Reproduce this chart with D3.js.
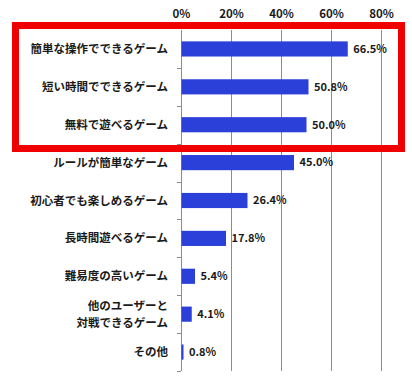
<!DOCTYPE html>
<html>
<head>
<meta charset="utf-8">
<script src="https://cdn.jsdelivr.net/npm/d3@7"></script>
<style>
  body { margin: 0; background: #fff; }
  svg text { font-family: "Noto Sans CJK JP", "Noto Sans", sans-serif; font-weight: bold; fill: #1a1a1a; }
</style>
</head>
<body>
<div id="chart"></div>
<script>
// categories (label lines) and values in %
const categories = [
  ["簡単な操作でできるゲーム"],
  ["短い時間でできるゲーム"],
  ["無料で遊べるゲーム"],
  ["ルールが簡単なゲーム"],
  ["初心者でも楽しめるゲーム"],
  ["長時間遊べるゲーム"],
  ["難易度の高いゲーム"],
  ["他のユーザーと", "対戦できるゲーム"],
  ["その他"]
];
const values = [66.5, 50.8, 50.0, 45.0, 26.4, 17.8, 5.4, 4.1, 0.8];
const xTicks = [0, 20, 40, 60, 80];

const svgWidth = 412;
const svgHeight = 377;

const svg = d3.select("#chart")
  .append("svg")
  .attr("width", svgWidth)
  .attr("height", svgHeight);

const keys = categories.map(c => c.join(""));

const XScale = d3.scaleLinear([0, 80], [181, 381]);
const YScale = d3.scaleBand(keys, [30, 371]).paddingInner(0.6).paddingOuter(0.3);
const step = YScale.step();

// gridlines
svg.append("g")
  .selectAll("line")
  .data(xTicks)
  .enter()
  .append("line")
  .attr("x1", d => XScale(d) + 0.5)
  .attr("x2", d => XScale(d) + 0.5)
  .attr("y1", 30)
  .attr("y2", 371)
  .attr("stroke", "#8c8c8c")
  .attr("stroke-width", 1);

// left axis tick marks at category boundaries
svg.append("g")
  .selectAll("line")
  .data(d3.range(1, keys.length + 1))
  .enter()
  .append("line")
  .attr("x1", XScale(0) - 4)
  .attr("x2", XScale(0))
  .attr("y1", i => Math.round(30 + i * step) + 0.5)
  .attr("y2", i => Math.round(30 + i * step) + 0.5)
  .attr("stroke", "#8c8c8c");

// top axis labels
const XAxis = d3.axisTop(XScale)
  .tickValues(xTicks)
  .tickSize(0)
  .tickFormat(d => d + "%");

svg.append("g")
  .attr("transform", "translate(0,14)")
  .call(XAxis)
  .call(g => g.select(".domain").remove())
  .selectAll("text")
  .attr("dy", "0.32em")
  .attr("y", 0)
  .style("font-size", "11.5px")
  .style("font-family", "\"Noto Sans CJK JP\", sans-serif")
  .style("font-weight", "bold")
  .style("fill", "#1a1a1a");

// bars
svg.selectAll("rect.bar")
  .data(values)
  .enter()
  .append("rect")
  .attr("class", "bar")
  .attr("x", XScale(0) + 0.5)
  .attr("y", (d, i) => YScale(keys[i]))
  .attr("width", d => XScale(d) - XScale(0))
  .attr("height", YScale.bandwidth())
  .attr("fill", "#2b3fd9");

// category labels
const labels = svg.append("g")
  .selectAll("text")
  .data(categories)
  .enter()
  .append("text")
  .attr("text-anchor", "end")
  .attr("x", 168)
  .attr("y", (d, i) => YScale(keys[i]) + YScale.bandwidth() / 2)
  .style("font-size", "11.5px");

labels.selectAll("tspan")
  .data(d => d.map((t, j) => ({ t, j, n: d.length })))
  .enter()
  .append("tspan")
  .attr("x", 168)
  .attr("dy", d => d.j === 0 ? (0.35 - (d.n - 1) * 0.75) + "em" : "1.5em")
  .text(d => d.t);

// value labels
svg.selectAll(".value")
  .data(values)
  .enter()
  .append("text")
  .attr("class", "value")
  .attr("x", d => XScale(d) + 6)
  .attr("y", (d, i) => YScale(keys[i]) + YScale.bandwidth() / 2)
  .attr("dy", "0.35em")
  .style("font-size", "11px")
  .text(d => d.toFixed(1) + "%");

// red highlight box
svg.append("rect")
  .attr("x", 15.5)
  .attr("y", 25.5)
  .attr("width", 386)
  .attr("height", 123)
  .attr("fill", "none")
  .attr("stroke", "#f00000")
  .attr("stroke-width", 7);
</script>
</body>
</html>
